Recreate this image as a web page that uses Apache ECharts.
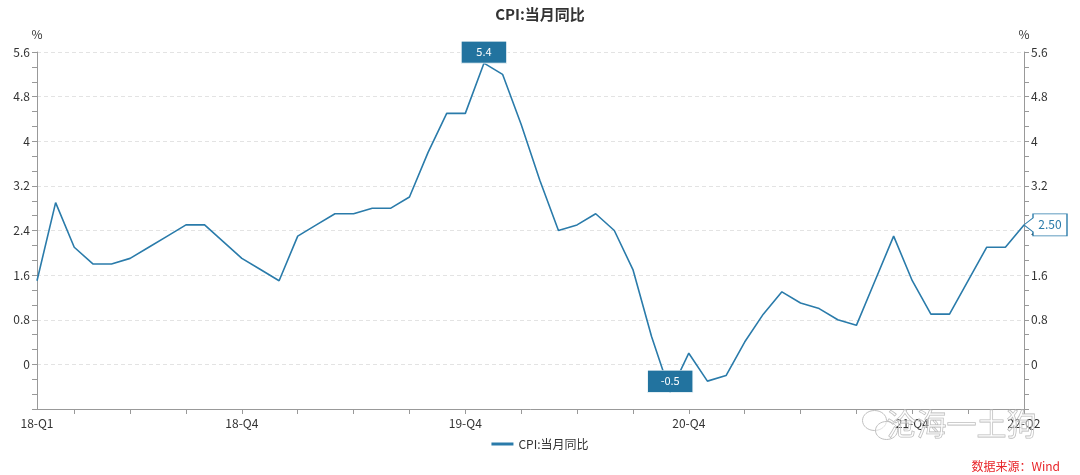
<!DOCTYPE html>
<html>
<head>
<meta charset="utf-8">
<script src="https://cdn.jsdelivr.net/npm/echarts@6/dist/echarts.min.js"></script>
<style>
html,body{margin:0;padding:0;background:#fff;}
#chart{width:1080px;height:475px;}
</style>
</head>
<body>
<div id="chart"></div>
<script>
// Monthly categories 2018-01 .. 2022-06
const months = [
  '2018-01','2018-02','2018-03','2018-04','2018-05','2018-06','2018-07','2018-08','2018-09','2018-10','2018-11','2018-12',
  '2019-01','2019-02','2019-03','2019-04','2019-05','2019-06','2019-07','2019-08','2019-09','2019-10','2019-11','2019-12',
  '2020-01','2020-02','2020-03','2020-04','2020-05','2020-06','2020-07','2020-08','2020-09','2020-10','2020-11','2020-12',
  '2021-01','2021-02','2021-03','2021-04','2021-05','2021-06','2021-07','2021-08','2021-09','2021-10','2021-11','2021-12',
  '2022-01','2022-02','2022-03','2022-04','2022-05','2022-06'
];
// CPI YoY (%)
const cpiYoY = [
  1.5, 2.9, 2.1, 1.8, 1.8, 1.9, 2.1, 2.3, 2.5, 2.5, 2.2, 1.9,
  1.7, 1.5, 2.3, 2.5, 2.7, 2.7, 2.8, 2.8, 3.0, 3.8, 4.5, 4.5,
  5.4, 5.2, 4.3, 3.3, 2.4, 2.5, 2.7, 2.4, 1.7, 0.5, -0.5, 0.2,
  -0.3, -0.2, 0.4, 0.9, 1.3, 1.1, 1.0, 0.8, 0.7, 1.5, 2.3, 1.5,
  0.9, 0.9, 1.5, 2.1, 2.1, 2.5
];
// X tick labels (category index -> label)
const labelIndex = [0, 11, 23, 35, 47, 53];
const labelText = ['18-Q1', '18-Q4', '19-Q4', '20-Q4', '21-Q4', '22-Q2'];

const seriesName = 'CPI:当月同比';
const lineColor = '#2A7BAA';
const boxColor = '#22739F';
const lastIdx = cpiYoY.length - 1;

const chart = echarts.init(document.getElementById('chart'));
const fontFam = '"Noto Sans CJK SC", "Noto Sans", sans-serif';

function yAxisCfg(pos) {
  return {
    type: 'value',
    position: pos,
    min: -0.8, max: 5.6, interval: 0.8,
    name: '%',
    nameLocation: 'end',
    nameGap: 12,
    nameTextStyle: { color: '#333', fontSize: 12, fontFamily: fontFam, align: 'center' },
    axisLine: { show: true, lineStyle: { color: '#999' } },
    axisTick: { show: true, length: 5, lineStyle: { color: '#999' } },
    minorTick: { show: true, splitNumber: 3, length: 5, lineStyle: { color: '#999' } },
    axisLabel: {
      color: '#333', fontSize: 12, fontFamily: fontFam, margin: 7,
      formatter: v => (Math.abs(v + 0.8) < 1e-6 ? '' : String(Math.round(v * 10) / 10))
    },
    splitLine: pos === 'left'
      ? { show: true, lineStyle: { color: '#e3e3e3', type: [4, 3] } }
      : { show: false }
  };
}

chart.setOption({
  backgroundColor: '#fff',
  animation: false,
  title: {
    text: seriesName, left: 'center', top: 2,
    textStyle: { fontSize: 15, fontWeight: 'bold', color: '#333', fontFamily: fontFam }
  },
  legend: {
    bottom: 20, left: 'center',
    itemWidth: 22, itemHeight: 3,
    icon: 'rect',
    textStyle: { color: '#333', fontSize: 12, fontFamily: fontFam },
    data: [seriesName]
  },
  grid: { left: 37, right: 56, top: 52, bottom: 66, containLabel: false },
  xAxis: {
    type: 'category',
    data: months,
    boundaryGap: false,
    axisLine: { onZero: false, lineStyle: { color: '#999' } },
    axisTick: { show: true, length: 5, interval: i => i % 3 === 2, lineStyle: { color: '#999' } },
    axisLabel: {
      color: '#333', fontSize: 12, fontFamily: fontFam, margin: 8,
      interval: i => labelIndex.indexOf(i) >= 0,
      formatter: (v, i) => {
        const k = labelIndex.indexOf(i);
        return k >= 0 ? labelText[k] : '';
      }
    },
    splitLine: { show: false }
  },
  yAxis: [yAxisCfg('left'), yAxisCfg('right')],
  series: [{
    name: seriesName,
    type: 'line',
    data: cpiYoY,
    showSymbol: false,
    symbol: 'none',
    lineStyle: { color: lineColor, width: 1.6 },
    itemStyle: { color: lineColor },
    markPoint: {
      silent: true,
      data: [
        {
          type: 'max', symbol: 'rect', symbolSize: [46, 22], symbolOffset: [0, -11],
          itemStyle: { color: boxColor, borderColor: '#fff', borderWidth: 1 },
          label: { show: true, position: 'inside', color: '#fff', fontSize: 11, fontFamily: fontFam,
                   formatter: p => String(p.value) }
        },
        {
          type: 'min', symbol: 'rect', symbolSize: [46, 22], symbolOffset: [0, -11],
          itemStyle: { color: boxColor, borderColor: '#fff', borderWidth: 1 },
          label: { show: true, position: 'inside', color: '#fff', fontSize: 11, fontFamily: fontFam,
                   formatter: p => String(p.value) }
        },
        {
          coord: [lastIdx, cpiYoY[lastIdx]], value: cpiYoY[lastIdx],
          symbol: 'path://M0,11 L9,4 L9,0 L43,0 L43,22 L9,22 L9,18 Z',
          symbolSize: [43, 22], symbolOffset: [21.5, 0],
          itemStyle: { color: '#fff', borderColor: lineColor, borderWidth: 1 },
          label: { show: true, position: 'inside', offset: [4.5, 0], color: lineColor, fontSize: 12, fontFamily: fontFam,
                   formatter: p => Number(p.value).toFixed(2) }
        }
      ]
    }
  }],
  graphic: [
    { type: 'text', right: 20, bottom: 3,
      style: { text: '数据来源：Wind', fill: '#E8262A', fontSize: 12, fontFamily: fontFam } },
    { type: 'text', left: 886, top: 408, z: 100,
      style: { text: '沧海一土狗', fill: 'rgba(255,255,255,0.3)', stroke: '#b5b5b5', lineWidth: 0.8,
               fontSize: 30, fontFamily: fontFam } },
    { type: 'group', left: 862, top: 410, z: 100, children: [
      { type: 'ellipse', shape: { cx: 12, cy: 10, rx: 12, ry: 10 },
        style: { fill: 'rgba(255,255,255,0.3)', stroke: '#c0c0c0', lineWidth: 1 } },
      { type: 'ellipse', shape: { cx: 24, cy: 20, rx: 11, ry: 9 },
        style: { fill: 'rgba(255,255,255,0.5)', stroke: '#c0c0c0', lineWidth: 1 } }
    ] }
  ]
});
</script>
</body>
</html>
